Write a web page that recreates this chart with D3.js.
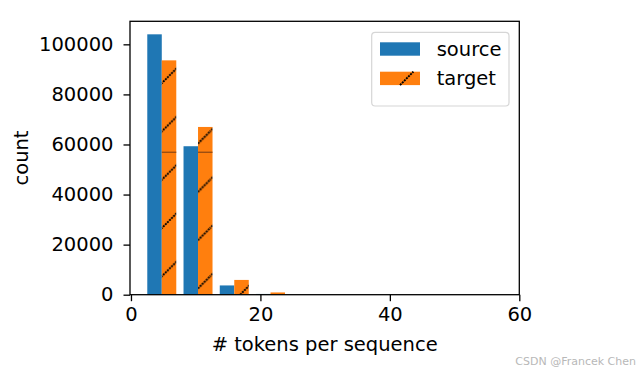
<!DOCTYPE html>
<html>
<head>
<meta charset="utf-8">
<script src="https://cdn.jsdelivr.net/npm/d3@7"></script>
<style>
  body { margin: 0; background: #fff; }
  svg { display: block; font-family: "DejaVu Sans", sans-serif; }
</style>
</head>
<body>
<svg id="chart" width="640" height="373"></svg>
<script>
// histogram bins (token counts per sequence)
const binStart = 1.96;
const binWidth = 5.6;
const sourceCounts = [104000, 59300, 3700, 300];
const targetCounts = [93600, 67000, 5900, 900];
const seriesNames = ["source", "target"];
const xTicks = [0, 20, 40, 60];
const yTicks = [0, 20000, 40000, 60000, 80000, 100000];
const hatchSeam = 56900;

const svg = d3.select("#chart");
const blue = "#1f77b4";
const orange = "#ff7f0e";
const fontSize = "19.5px";

const plotLeft = 130, plotRight = 519.3, plotTop = 21.3, plotBottom = 294.7;

const x = d3.scaleLinear().domain([-0.15, 60]).range([plotLeft, plotRight]);
const y = d3.scaleLinear().domain([0, 109200]).range([plotBottom, plotTop]);

// hatch pattern for target bars
const defs = svg.append("defs");
const pat = defs.append("pattern")
    .attr("id", "hatch")
    .attr("patternUnits", "userSpaceOnUse")
    .attr("width", 48.3)
    .attr("height", 48.3)
    .attr("x", 162)
    .attr("y", 83 - 48.3);
pat.append("rect").attr("width", 48.3).attr("height", 48.3).attr("fill", orange);
pat.selectAll("line")
  .data([[-1, 49.3, 49.3, -1], [-25, 25, 25, -25], [23.3, 73.3, 73.3, 23.3]])
  .enter().append("line")
    .attr("x1", d => d[0]).attr("y1", d => d[1])
    .attr("x2", d => d[2]).attr("y2", d => d[3])
    .attr("stroke", "#000")
    .attr("stroke-width", 1.9)
    .attr("stroke-dasharray", "2 0.9");

const bins = sourceCounts.map((s, i) => ({
  x0: binStart + i * binWidth,
  source: s,
  target: targetCounts[i]
}));

const barW = binWidth * 0.4;

const g = svg.append("g");

g.selectAll("rect.source")
  .data(bins)
  .enter().append("rect")
    .attr("class", "source")
    .attr("x", d => x(d.x0 + binWidth * 0.1))
    .attr("width", d => x(d.x0 + binWidth * 0.1 + barW) - x(d.x0 + binWidth * 0.1))
    .attr("y", d => y(d.source))
    .attr("height", d => y(0) - y(d.source))
    .attr("fill", blue);

g.selectAll("rect.target")
  .data(bins)
  .enter().append("rect")
    .attr("class", "target")
    .attr("x", d => x(d.x0 + binWidth * 0.1 + barW))
    .attr("width", d => x(d.x0 + binWidth * 0.1 + 2 * barW) - x(d.x0 + binWidth * 0.1 + barW))
    .attr("y", d => y(d.target))
    .attr("height", d => y(0) - y(d.target))
    .attr("fill", "url(#hatch)");

// seam line visible in the tall hatched bars
g.selectAll("line.seam")
  .data(bins.filter(d => d.target > hatchSeam))
  .enter().append("line")
    .attr("x1", d => x(d.x0 + binWidth * 0.1 + barW))
    .attr("x2", d => x(d.x0 + binWidth * 0.1 + 2 * barW))
    .attr("y1", y(hatchSeam)).attr("y2", y(hatchSeam))
    .attr("stroke", "#8a4612")
    .attr("stroke-width", 1.2);

// axes
const xAxis = svg.append("g")
    .attr("transform", `translate(0,${plotBottom})`)
    .call(d3.axisBottom(x).tickValues(xTicks).tickSize(6.5).tickPadding(6).tickFormat(d3.format("d")));
const yAxis = svg.append("g")
    .attr("transform", `translate(${plotLeft},0)`)
    .call(d3.axisLeft(y).tickValues(yTicks).tickSize(6.5).tickPadding(10).tickFormat(d3.format("d")));

[xAxis, yAxis].forEach(a => {
  a.select(".domain").remove();
  a.selectAll(".tick line").attr("stroke", "#000").attr("stroke-width", 1.3);
  a.selectAll(".tick text")
    .attr("fill", "#000")
    .style("font-size", fontSize)
    .style("font-family", "DejaVu Sans, sans-serif");
});

// frame
svg.append("rect")
    .attr("x", plotLeft).attr("y", plotTop)
    .attr("width", plotRight - plotLeft).attr("height", plotBottom - plotTop)
    .attr("fill", "none")
    .attr("stroke", "#000")
    .attr("stroke-width", 1.3);

// axis labels
svg.append("text")
    .attr("x", (plotLeft + plotRight) / 2)
    .attr("y", 350.5)
    .attr("text-anchor", "middle")
    .style("font-size", fontSize)
    .text("# tokens per sequence");

svg.append("text")
    .attr("transform", `translate(28,${(plotTop + plotBottom) / 2}) rotate(-90)`)
    .attr("text-anchor", "middle")
    .style("font-size", fontSize)
    .text("count");

// legend
const legend = svg.append("g");
legend.append("rect")
    .attr("x", 371.7).attr("y", 32.3)
    .attr("width", 137.3).attr("height", 73.7)
    .attr("rx", 3.5)
    .attr("fill", "rgba(255,255,255,0.8)")
    .attr("stroke", "#d6d6d6")
    .attr("stroke-width", 1.2);

const legItem = legend.selectAll("g.item")
  .data(seriesNames)
  .enter().append("g")
    .attr("transform", (d, i) => `translate(380,${42.3 + i * 29.4})`);

legItem.append("rect")
    .attr("width", 40).attr("height", 13.4)
    .attr("fill", (d, i) => i === 0 ? blue : orange);

legItem.filter((d, i) => i === 1).append("line")
    .attr("x1", 20).attr("y1", 13.4)
    .attr("x2", 33.4).attr("y2", 0)
    .attr("stroke", "#000")
    .attr("stroke-width", 1.9)
    .attr("stroke-dasharray", "2 0.9");

legItem.append("text")
    .attr("x", 56.7)
    .attr("y", 13.4)
    .style("font-size", fontSize)
    .text(d => d);

// watermark
svg.append("text")
    .attr("x", 636)
    .attr("y", 365)
    .attr("text-anchor", "end")
    .attr("fill", "#b8b8b8")
    .style("font-size", "11px")
    .text("CSDN @Francek Chen");
</script>
</body>
</html>
